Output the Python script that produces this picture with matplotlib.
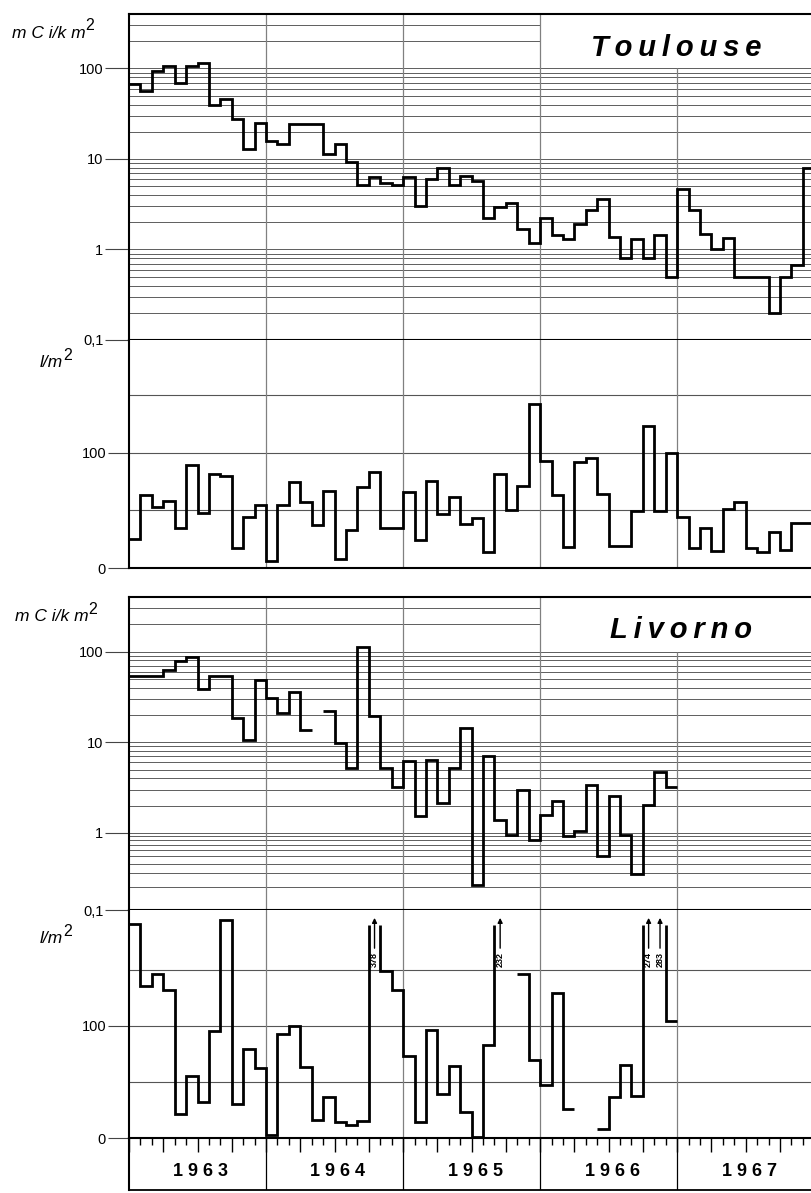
import numpy as np
import matplotlib
matplotlib.use("Agg")
import matplotlib.pyplot as plt
from matplotlib.ticker import FixedLocator, FixedFormatter, NullFormatter, MultipleLocator
from matplotlib.patches import Rectangle

plt.rcParams["font.family"] = ["Liberation Sans", "DejaVu Sans"]

nan = np.nan

# Monthly values, January 1963 .. December 1967
years = ["1963", "1964", "1965", "1966", "1967"]

# Toulouse: deposition (mCi/km2) and precipitation (l/m2)
toulouse_activity = [
    68, 57, 93, 106, 69, 106, 115, 40, 46, 28, 13, 25,
    16, 14.7, 24.4, 24.4, 24.4, 11.4, 14.7, 9.2, 5.1, 6.4, 5.4, 5.1,
    6.3, 3.0, 6.0, 8.0, 5.2, 6.5, 5.7, 2.25, 2.95, 3.3, 1.67, 1.19,
    2.25, 1.44, 1.32, 1.9, 2.7, 3.6, 1.38, 0.80, 1.3, 0.80, 1.44, 0.50,
    4.7, 2.7, 1.47, 1.0, 1.35, 0.50, 0.50, 0.50, 0.20, 0.50, 0.68, 8.0,
]
toulouse_rain = [
    24.8, 63, 53, 58.6, 34.4, 89.8, 47.5, 82, 79.6, 17.8, 44, 54.8,
    5.8, 54.8, 74.6, 57.7, 37, 66.5, 8.2, 33, 70, 83.4, 34.4, 34.4,
    65.6, 24.2, 75.8, 46.6, 61.8, 38.2, 43, 14, 82, 50, 71.4, 142,
    93.3, 63.6, 18.4, 92, 95.6, 64, 19, 19, 49.6, 123, 49.6, 100,
    44, 17.8, 35, 14.6, 51.3, 56.9, 17.8, 14, 30.9, 16, 38.8, 38.8,
]

# Livorno: deposition (mCi/km2) and precipitation (l/m2)
livorno_activity = [
    54, 54, 54, 63, 78, 87, 38.7, 54, 54, 18.5, 10.6, 48.7,
    30.8, 21, 35.5, 13.5, nan, 22.4, 9.8, 5.2, 112, 19.4, 5.2, 3.24,
    6.2, 1.53, 6.3, 2.12, 5.2, 14.3, 0.21, 7.1, 1.39, 0.95, 2.98, 0.82,
    1.59, 2.27, 0.91, 1.04, 3.39, 0.50, 2.54, 0.93, 0.29, 2.04, 4.7, 3.24,
    nan, nan, nan, nan, nan, nan, nan, nan, nan, nan, nan, nan,
]
livorno_rain = [
    190.8, 135, 145.9, 131.7, 21.3, 55.3, 31.7, 95.6, 193.8, 30.5, 79.3, 62.1,
    2.4, 92.6, 99.7, 63, 16.3, 36.4, 14.2, 11.8, 14.8, 378, 148.8, 131.7,
    73.4, 14.2, 96, 38.8, 64.5, 23, 1, 82.8, 232, nan, 145.9, 69.5,
    47.3, 128.7, 25.4, nan, nan, 7.7, 36.4, 65.4, 37.3, 274, 283, 104.4,
    nan, nan, nan, nan, nan, nan, nan, nan, nan, nan, nan, nan,
]

W, H = 811, 1193
fig = plt.figure(figsize=(W / 100, H / 100), dpi=100)
LEFT = 129
MONTH_PX = 11.42
XMAX = (W - LEFT) / MONTH_PX
YEAR_EDGES = [12, 24, 36, 48]

GRID_C = "#444444"
YEAR_C = "#808080"
LW_DATA = 2.0


def add_ax(top, bottom):
    return fig.add_axes([LEFT / W, 1 - bottom / H, (W - LEFT) / W, (bottom - top) / H])


def step_xy(vals, top=None, cap=None):
    xs, ys = [], []
    for i, v in enumerate(vals):
        if np.isnan(v):
            xs.append(nan)
            ys.append(nan)
        elif top is not None and v > top:
            xs += [i, nan, i + 1]
            ys += [cap, nan, cap]
        else:
            xs += [i, i + 1]
            ys += [v, v]
    return xs, ys


def style_common(ax):
    ax.set_xlim(0, XMAX)
    ax.set_facecolor("white")
    ax.spines["right"].set_visible(False)
    for s in ("left", "top", "bottom"):
        ax.spines[s].set_linewidth(1.5)
        ax.spines[s].set_color("black")
    ax.tick_params(axis="x", which="both", bottom=False, labelbottom=False)
    ax.tick_params(axis="y", which="major", length=17, width=0.8, color="#444444",
                   pad=1.5, labelsize=10.5)
    ax.tick_params(axis="y", which="minor", length=0)


def activity_panel(ax, vals, title, box_frac_x, scale_fn=None):
    style_common(ax)
    if scale_fn is None:
        ax.set_yscale("log")
    else:
        ax.set_yscale("function", functions=scale_fn)
    ax.set_ylim(0.1, 400)
    majors = [0.1, 1, 10, 100]
    minors = [m * d for d in (0.1, 1, 10) for m in range(2, 10)] + [200, 300]
    ax.yaxis.set_major_locator(FixedLocator(majors))
    ax.yaxis.set_major_formatter(FixedFormatter(["0,1", "1", "10", "100"]))
    ax.yaxis.set_minor_locator(FixedLocator(minors))
    ax.yaxis.set_minor_formatter(NullFormatter())
    ax.set_axisbelow(True)
    ax.grid(True, which="both", axis="y", color=GRID_C, lw=0.6)
    ax.spines["top"].set_visible(True)
    # blank field holding the station name
    ax.add_patch(Rectangle((36, 100), XMAX - 36, 400 - 100, facecolor="white",
                           edgecolor="none", zorder=1))
    for e in YEAR_EDGES:
        hi = 100 if e > 36 else 400
        ax.vlines(e, 0.1, hi, color=YEAR_C, lw=0.9, zorder=1.2)
    ax.text(box_frac_x, 0.896, "\u2009".join(title), transform=ax.transAxes,
            ha="center", va="center", fontsize=21, fontweight="bold",
            fontstyle="italic", zorder=3)
    xs, ys = step_xy(vals)
    ax.plot(xs, ys, color="black", lw=LW_DATA, solid_joinstyle="miter",
            solid_capstyle="butt", zorder=4, clip_on=True)


def rain_panel(ax, vals, ytop):
    style_common(ax)
    ax.spines["top"].set_visible(False)
    ax.set_ylim(0, ytop)
    ax.yaxis.set_major_locator(FixedLocator([0, 100]))
    ax.yaxis.set_major_formatter(FixedFormatter(["0", "100"]))
    ax.tick_params(axis="y", which="major", length=15)
    for g in (50, 100, 150):
        ax.axhline(g, color="#555555", lw=0.8, zorder=0.8)
    for e in YEAR_EDGES:
        ax.axvline(e, color=YEAR_C, lw=0.9, zorder=1.2)
    cap = 190
    xs, ys = step_xy(vals, top=ytop, cap=cap)
    ax.plot(xs, ys, color="black", lw=LW_DATA, solid_joinstyle="miter",
            solid_capstyle="butt", zorder=4)
    # months beyond the scale: arrow and value
    for i, v in enumerate(vals):
        if not np.isnan(v) and v > ytop:
            xc = i + 0.5
            ax.annotate("", xy=(xc, 196), xytext=(xc, 169),
                        arrowprops=dict(arrowstyle="-|>", lw=1.0, color="black",
                                        mutation_scale=7, shrinkA=0, shrinkB=0),
                        zorder=5)
            ax.text(xc, 166, f"{v:.0f}", rotation=90, ha="center", va="top",
                    fontsize=6.5, fontweight="bold", zorder=5)


# Toulouse
ax1 = add_ax(14, 340)
activity_panel(ax1, toulouse_activity, "Toulouse", 0.802)
ax2 = add_ax(340, 568)
rain_panel(ax2, toulouse_rain, 198)

# Livorno (lowest decade drawn compressed)
K = 0.85


def fwd(v):
    v = np.asarray(v, dtype=float)
    with np.errstate(divide="ignore", invalid="ignore"):
        lv = np.log10(np.where(v > 0, v, np.nan))
    return np.where(lv < 0, K * lv, lv)


def inv(u):
    u = np.asarray(u, dtype=float)
    return np.where(u < 0, 10 ** (u / K), 10 ** u)


ax3 = add_ax(597, 910)
activity_panel(ax3, livorno_activity, "Livorno", 0.809, scale_fn=(fwd, inv))
ax4 = add_ax(910, 1138)
rain_panel(ax4, livorno_rain, 203)

# monthly ruler under the last panel
ax4.xaxis.set_major_locator(MultipleLocator(3))
ax4.xaxis.set_minor_locator(MultipleLocator(1))
ax4.tick_params(axis="x", which="major", bottom=True, direction="out", length=10,
                width=1.0, color="black")
ax4.tick_params(axis="x", which="minor", bottom=True, direction="out", length=5,
                width=1.0, color="black")

# year strip
ax5 = add_ax(1138, 1190)
ax5.set_xlim(0, XMAX)
ax5.set_ylim(0, 1)
ax5.patch.set_visible(False)
for s in ("top", "right"):
    ax5.spines[s].set_visible(False)
ax5.spines["left"].set_linewidth(1.5)
ax5.spines["bottom"].set_linewidth(1.3)
ax5.set_xticks([])
ax5.set_yticks([])
for e in YEAR_EDGES:
    ax5.axvline(e, color="black", lw=0.9)
for k, yr in enumerate(years):
    ax5.text(12 * k + 6.3, 0.36, " ".join(yr), ha="center", va="center",
             fontsize=13, fontweight="bold")


# unit labels with a raised exponent
def unit(x, y, s):
    t = fig.text(x / W, 1 - y / H, s, ha="left", va="baseline", fontsize=12.5,
                 fontstyle="italic")
    ax5.annotate("2", xy=(1.0, 0.5), xycoords=t, xytext=(0, 0),
                 textcoords="offset points", ha="left", va="bottom",
                 fontsize=11.5, annotation_clip=False)


unit(12, 38, "m C i/k m")
unit(40, 367, "l/m")
unit(15, 621, "m C i/k m")
unit(40, 943, "l/m")

fig.savefig("out.png", dpi=100)
